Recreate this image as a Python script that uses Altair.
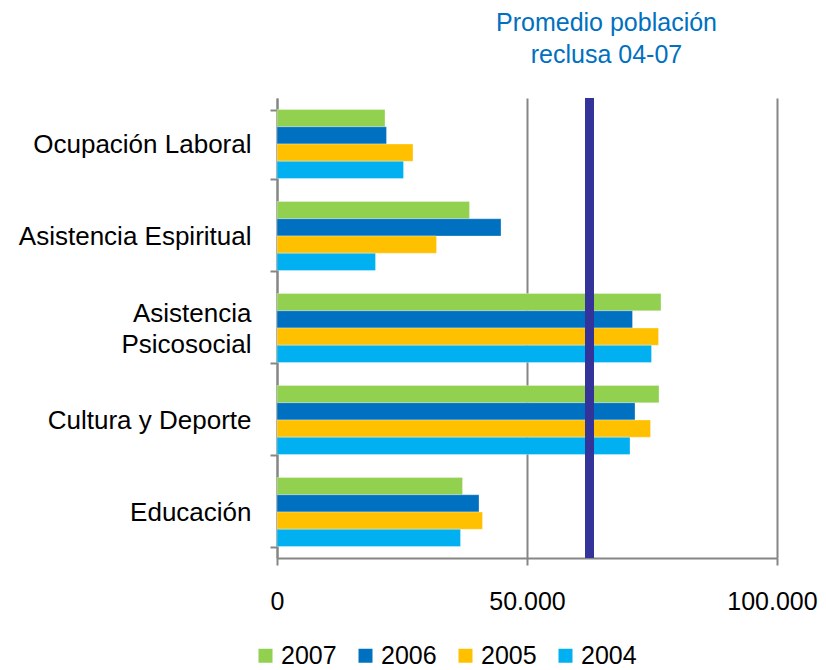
import altair as alt
import pandas as pd

categories = ["Ocupación Laboral", "Asistencia Espiritual", "Asistencia Psicosocial",
              "Cultura y Deporte", "Educación"]
years = ["2007", "2006", "2005", "2004"]
colors = ["#92D050", "#0070C0", "#FFC000", "#00B0F0"]

v2007 = [21600, 38500, 76800, 76400, 37100]
v2006 = [21900, 44800, 71100, 71600, 40400]
v2005 = [27200, 31900, 76300, 74700, 41100]
v2004 = [25300, 19700, 74900, 70600, 36700]

promedio = 62500
annotation = ["Promedio población", "reclusa 04-07"]
x_ticks = [0, 50000, 100000]

rows = []
for yr, vals in zip(years, [v2007, v2006, v2005, v2004]):
    for c, v in zip(categories, vals):
        rows.append({"categoria": c, "anio": yr, "valor": v})
df = pd.DataFrame(rows)

grey = "#868686"
font = "Liberation Sans"
fs = 26

x_enc = alt.X("valor:Q",
              scale=alt.Scale(domain=[0, 100000], nice=False),
              axis=alt.Axis(values=x_ticks, title=None, grid=True, gridColor=grey,
                            gridWidth=2, gridOpacity=1, domainColor=grey, domainWidth=2,
                            tickColor=grey, tickWidth=2, tickSize=7,
                            labelFontSize=25, labelFont=font, labelColor="black",
                            labelPadding=24, labelFlush=False, labelOverlap=False,
                            labelOffset={"condition": {"test": "datum.value == 100000",
                                                       "value": -5},
                                         "value": 0},
                            labelExpr="replace(format(datum.value, ',d'), ',', '.')"))

bars = alt.Chart(df).mark_bar(stroke="white", strokeWidth=0.5, strokeOpacity=0.6).encode(
    x=x_enc,
    y=alt.Y("categoria:N", sort=categories,
            scale=alt.Scale(paddingInner=0.25, paddingOuter=0.125),
            axis=alt.Axis(title=None, tickBand="extent", domainColor=grey, domainWidth=2,
                          tickColor=grey, tickWidth=2, tickSize=7, grid=False,
                          labelFontSize=fs, labelFont=font, labelColor="black",
                          labelPadding=19, labelLineHeight=31, labelLimit=400,
                          labelOffset={"condition": {"test": "datum.value == 'Asistencia Psicosocial'",
                                                     "value": -15},
                                       "value": 0},
                          labelExpr="datum.value == 'Asistencia Psicosocial' ? ['Asistencia ', 'Psicosocial'] : datum.value")),
    yOffset=alt.YOffset("anio:N", sort=years,
                        scale=alt.Scale(paddingInner=0, paddingOuter=0)),
    color=alt.Color("anio:N",
                    scale=alt.Scale(domain=years, range=colors),
                    legend=alt.Legend(title=None, orient="none", direction="horizontal",
                                      columns=4, legendX=-24, legendY=545,
                                      symbolType="square", symbolSize=196,
                                      symbolStrokeWidth=0, symbolOpacity=1,
                                      labelFontSize=25, labelFont=font, labelColor="black",
                                      labelOffset=3, columnPadding=16)),
)

rule = alt.Chart(pd.DataFrame({"p": [promedio]})).mark_rule(
    color="#333399", strokeWidth=9).encode(x=alt.X("p:Q"))

text = alt.Chart(pd.DataFrame({"p": [promedio]})).mark_text(
    fontSize=25, font=font, color="#0070C0", lineHeight=32, baseline="alphabetic",
    align="center", dx=17).encode(
    x=alt.X("p:Q"), y=alt.value(-67), text=alt.value(annotation))

chart = alt.layer(bars, rule, text).properties(
    width=500, height=460,
    autosize=alt.AutoSizeParams(type="none"),
    padding={"left": 269, "top": 90, "right": 41, "bottom": 112},
).configure_view(stroke=None)

chart.save("out.html", embed_options={"renderer": "svg", "actions": False})
